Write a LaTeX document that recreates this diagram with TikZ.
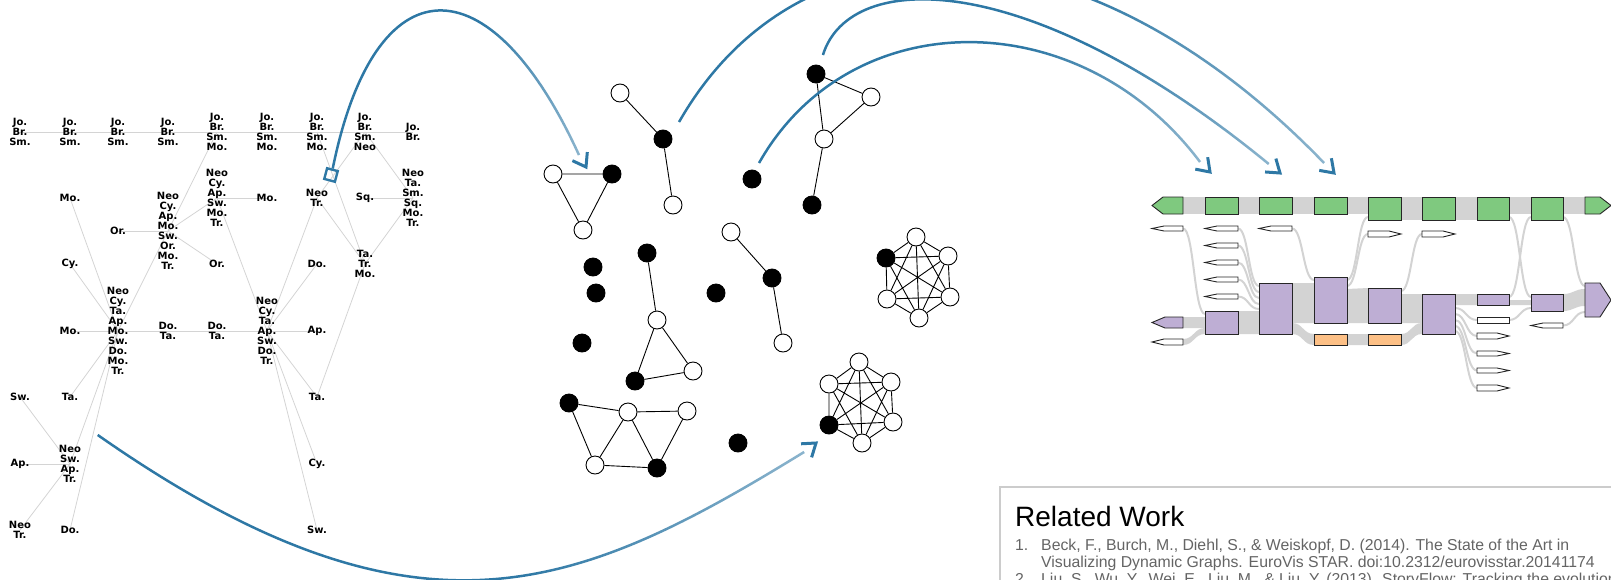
\documentclass[tikz,border=0pt]{standalone}
\usepackage{fontspec}
\setmainfont{Liberation Sans}
\newfontfamily\treefont{DejaVu Sans}
\usetikzlibrary{backgrounds,fadings}

\definecolor{arcblue}{RGB}{46,120,165}
\definecolor{treegray}{RGB}{212,212,212}
\definecolor{flowgray}{RGB}{211,211,211}
\definecolor{slotgreen}{RGB}{127,201,127}
\definecolor{slotpurple}{RGB}{190,174,212}
\definecolor{slotorange}{RGB}{253,192,134}
\definecolor{reftext}{RGB}{100,100,100}
\definecolor{boxgray}{RGB}{204,204,204}

\pgfdeclarehorizontalshading{arcshade}{100bp}{color(0bp)=(pgftransparent!0); color(55bp)=(pgftransparent!0); color(84bp)=(pgftransparent!65); color(100bp)=(pgftransparent!97)}
\pgfdeclarefading{arcfade}{\pgfuseshading{arcshade}}

\tikzset{
  lbl/.style={font=\treefont\bfseries\fontsize{10}{10}\selectfont, align=center, inner sep=0pt},
  tline/.style={draw=treegray, line width=0.8pt},
  gw/.style={circle, draw, line width=0.9pt, fill=white, minimum size=18pt, inner sep=0pt},
  gk/.style={gw, fill=black},
  gedge/.style={line width=0.9pt},
  arcline/.style={draw=arcblue, line width=2.5pt, path fading=arcfade},
  chevron/.style={draw=arcblue, line width=3pt, line join=miter},
  flow/.style={fill=flowgray},
  flowthin/.style={draw=flowgray, line width=2pt},
  slotline/.style={draw=black!85, line width=0.9pt},
  reftxt/.style={font=\fontsize{15.8}{17}\selectfont, text=reftext, inner sep=0pt, anchor=base west}
}

% open chevron at a tip, #2 = direction of travel
\newcommand{\chevron}[2]{\draw[chevron] ([shift={(#2+145:15)}]#1) -- (#1) -- ([shift={(#2+215:15)}]#1);}
% gray flow band between two columns
\newcommand{\flowband}[6]{\fill[flow] (#1,#2) .. controls ({(#1+#4)/2},#2) and ({(#1+#4)/2},#5) .. (#4,#5) -- (#4,#6) .. controls ({(#1+#4)/2},#6) and ({(#1+#4)/2},#3) .. (#1,#3) -- cycle;}
\newcommand{\flowline}[4]{\draw[flowthin] (#1,#2) .. controls ({(#1+#3)/2},#2) and ({(#1+#3)/2},#4) .. (#3,#4);}
% small white markers
\newcommand{\lmark}[4]{\draw[slotline, fill=white] (#2,#3) -- ({#1+12},#3) -- (#1,{(#3+#4)/2}) -- ({#1+12},#4) -- (#2,#4) -- cycle;}
\newcommand{\rmark}[4]{\draw[slotline, fill=white] (#1,#3) -- ({#2-12},#3) -- (#2,{(#3+#4)/2}) -- ({#2-12},#4) -- (#1,#4) -- cycle;}

\begin{document}
\begin{tikzpicture}[x=1pt,y=-1pt]
\useasboundingbox (0,0) rectangle (1611,579);
\clip (0,0) rectangle (1611,579);

% tree of groups, left
\node[lbl] (c0r0) at (20,132) {Jo.\\Br.\\Sm.};
\node[lbl] (c1r0) at (70,132) {Jo.\\Br.\\Sm.};
\node[lbl] (c2r0) at (118,132) {Jo.\\Br.\\Sm.};
\node[lbl] (c3r0) at (168,132) {Jo.\\Br.\\Sm.};
\node[lbl] (c4r0) at (217,132) {Jo.\\Br.\\Sm.\\Mo.};
\node[lbl] (c5r0) at (267,132) {Jo.\\Br.\\Sm.\\Mo.};
\node[lbl] (c6r0) at (317,132) {Jo.\\Br.\\Sm.\\Mo.};
\node[lbl] (c7r0) at (365,132) {Jo.\\Br.\\Sm.\\Neo};
\node[lbl] (c8r0) at (413,132) {Jo.\\Br.};

\node[lbl] (c1r2) at (70,198) {Mo.};
\node[lbl] (c4r2) at (217,198) {Neo\\Cy.\\Ap.\\Sw.\\Mo.\\Tr.};
\node[lbl] (c5r2) at (267,198) {Mo.};
\node[lbl] (c6r2) at (317,198) {Neo\\Tr.};
\node[lbl] (c7r2) at (365,198) {Sq.};
\node[lbl] (c8r2) at (413,198) {Neo\\Ta.\\Sm.\\Sq.\\Mo.\\Tr.};

\node[lbl] (c2r3) at (118,231) {Or.};
\node[lbl] (c3r3) at (168,231) {Neo\\Cy.\\Ap.\\Mo.\\Sw.\\Or.\\Mo.\\Tr.};

\node[lbl] (c1r4) at (70,264) {Cy.};
\node[lbl] (c4r4) at (217,264) {Or.};
\node[lbl] (c6r4) at (317,264) {Do.};
\node[lbl] (c7r4) at (365,264) {Ta.\\Tr.\\Mo.};

\node[lbl] (c1r6) at (70,331) {Mo.};
\node[lbl] (c2r6) at (118,331) {Neo\\Cy.\\Ta.\\Ap.\\Mo.\\Sw.\\Do.\\Mo.\\Tr.};
\node[lbl] (c3r6) at (168,331) {Do.\\Ta.};
\node[lbl] (c4r6) at (217,331) {Do.\\Ta.};
\node[lbl] (c5r6) at (267,331) {Neo\\Cy.\\Ta.\\Ap.\\Sw.\\Do.\\Tr.};
\node[lbl] (c6r6) at (317,331) {Ap.};

\node[lbl] (c0r8) at (20,397) {Sw.};
\node[lbl] (c1r8) at (70,397) {Ta.};
\node[lbl] (c6r8) at (317,397) {Ta.};

\node[lbl] (c0r10) at (20,464) {Ap.};
\node[lbl] (c1r10) at (70,464) {Neo\\Sw.\\Ap.\\Tr.};
\node[lbl] (c6r10) at (317,464) {Cy.};

\node[lbl] (c0r12) at (20,530) {Neo\\Tr.};
\node[lbl] (c1r12) at (70,530) {Do.};
\node[lbl] (c6r12) at (317,530) {Sw.};

\begin{scope}[on background layer]
\draw[tline] (c0r0.center) -- (c8r0.center);
\draw[tline] (c1r2.center) -- (c2r6.center);
\draw[tline] (c1r4.center) -- (c2r6.center);
\draw[tline] (c1r6.center) -- (c6r6.center);
\draw[tline] (c1r8.center) -- (c2r6.center);
\draw[tline] (c2r6.center) -- (c1r10.center);
\draw[tline] (c2r6.center) -- (c1r12.center);
\draw[tline] (c2r6.center) -- (c3r3.center);
\draw[tline] (c2r3.center) -- (c3r3.center);
\draw[tline] (c3r3.center) -- (c4r0.center);
\draw[tline] (c3r3.center) -- (c4r2.center);
\draw[tline] (c3r3.center) -- (c4r4.center);
\draw[tline] (c4r2.center) -- (c5r2.center);
\draw[tline] (c4r2.center) -- (c5r6.center);
\draw[tline] (c5r6.center) -- (c6r2.center);
\draw[tline] (c5r6.center) -- (c6r4.center);
\draw[tline] (c5r6.center) -- (c6r8.center);
\draw[tline] (c5r6.center) -- (c6r10.center);
\draw[tline] (c5r6.center) -- (c6r12.center);
\draw[tline] (c6r0.center) -- (c7r4.center);
\draw[tline] (c6r2.center) -- (c7r0.center);
\draw[tline] (c6r2.center) -- (c7r4.center);
\draw[tline] (c6r8.center) -- (c7r4.center);
\draw[tline] (c7r0.center) -- (c8r2.center);
\draw[tline] (c7r2.center) -- (c8r2.center);
\draw[tline] (c7r4.center) -- (c8r2.center);
\draw[tline] (c0r8.center) -- (c1r10.center);
\draw[tline] (c0r10.center) -- (c1r10.center);
\draw[tline] (c0r12.center) -- (c1r10.center);
\end{scope}

\node[draw=arcblue, line width=2.4pt, minimum size=11pt, inner sep=0pt, rotate=-15] (sq) at (331,175) {};

% graph snapshot, middle
\node[gw] (ga1) at (553,174) {};
\node[gk] (ga2) at (612,174) {};
\node[gw] (ga3) at (583,230) {};
\draw[gedge] (ga1) -- (ga2) -- (ga3) -- (ga1);

\node[gw] (gb1) at (620,93) {};
\node[gk] (gb2) at (663,139) {};
\node[gw] (gb3) at (673,205) {};
\draw[gedge] (gb1) -- (gb2) -- (gb3);

\node[gk] (gc1) at (816,74) {};
\node[gw] (gc2) at (871,97) {};
\node[gw] (gc3) at (824,139) {};
\node[gk] (gc4) at (812,205) {};
\draw[gedge] (gc1) -- (gc2) -- (gc3) -- (gc1) (gc3) -- (gc4);

\node[gk] (gi1) at (752,179) {};
\node[gk] (gi2) at (593,267) {};
\node[gk] (gi3) at (596,293) {};
\node[gk] (gi4) at (716,293) {};
\node[gk] (gi5) at (582,343) {};
\node[gk] (gi6) at (738,443) {};

\node[gk] (gd1) at (647,253) {};
\node[gw] (gd2) at (657,320) {};
\node[gk] (gd3) at (635,381) {};
\node[gw] (gd4) at (693,371) {};
\draw[gedge] (gd1) -- (gd2) -- (gd3) -- (gd4) -- (gd2);

\node[gw] (ge1) at (731,232) {};
\node[gk] (ge2) at (772,278) {};
\node[gw] (ge3) at (783,343) {};
\draw[gedge] (ge1) -- (ge2) -- (ge3);

\node[gk] (gf1) at (886,258) {};
\node[gw] (gf2) at (916,237) {};
\node[gw] (gf3) at (948,256) {};
\node[gw] (gf4) at (950,297) {};
\node[gw] (gf5) at (919,318) {};
\node[gw] (gf6) at (887,299) {};
\draw[gedge] (gf1) -- (gf2) -- (gf3) -- (gf4) -- (gf5) -- (gf6) -- (gf1) -- (gf3) -- (gf5) -- (gf1) -- (gf4)
  (gf2) -- (gf4) -- (gf6) -- (gf2) -- (gf5) (gf3) -- (gf6);

\node[gw] (gg1) at (829,384) {};
\node[gw] (gg2) at (859,362) {};
\node[gw] (gg3) at (891,382) {};
\node[gw] (gg4) at (893,422) {};
\node[gw] (gg5) at (862,443) {};
\node[gk] (gg6) at (829,425) {};
\draw[gedge] (gg1) -- (gg2) -- (gg3) -- (gg4) -- (gg5) -- (gg6) -- (gg1) -- (gg3) -- (gg5) -- (gg1) -- (gg4)
  (gg2) -- (gg4) -- (gg6) -- (gg2) -- (gg5) (gg3) -- (gg6);

\node[gk] (gh1) at (569,403) {};
\node[gw] (gh2) at (628,412) {};
\node[gw] (gh3) at (687,411) {};
\node[gw] (gh4) at (595,465) {};
\node[gk] (gh5) at (657,468) {};
\draw[gedge] (gh1) -- (gh2) -- (gh3) -- (gh5) -- (gh4) -- (gh1) (gh2) -- (gh4) (gh2) -- (gh5);

% storyline, right
\fill[flow] (1183,197) rectangle (1585,214);
\fill[flow] (1401,214) rectangle (1477,220);
\flowband{1183}{317}{328}{1205}{317}{328}
\flowband{1183}{339}{345}{1205}{328}{334}
\flowband{1238}{311}{334}{1259}{311}{334}
\flowband{1292}{283}{323}{1314}{283}{323}
\flowband{1292}{323}{334}{1314}{334}{345}
\flowband{1347}{289}{323}{1368}{288}{323}
\flowband{1347}{334}{345}{1368}{334}{345}
\flowband{1401}{294}{323}{1422}{294}{323}
\flowband{1401}{334}{345}{1422}{323}{334}
\flowband{1455}{294}{305}{1477}{294}{305}
\flowband{1509}{300}{305}{1531}{300}{305}
\flowband{1563}{294}{311}{1585}{289}{306}
\flowline{1183}{228.5}{1205}{314}
\flowline{1238}{228.5}{1259}{286}
\flowline{1238}{245.5}{1259}{292}
\flowline{1238}{262.5}{1259}{298}
\flowline{1238}{279.5}{1259}{304}
\flowline{1238}{296.5}{1259}{309}
\flowline{1292}{228.5}{1314}{280}
\flowline{1347}{280}{1368}{217}
\flowline{1347}{286}{1368}{234}
\flowline{1401}{291}{1422}{234}
\flowline{1455}{308}{1477}{320}
\flowline{1455}{314}{1477}{336}
\flowline{1455}{320}{1477}{353.5}
\flowline{1455}{326}{1477}{370.5}
\flowline{1455}{331}{1477}{388}
\flowline{1509}{217}{1531}{297}
\flowline{1509}{297}{1531}{217}
\flowline{1509}{320}{1531}{308}
\flowline{1563}{217}{1585}{286}
\flowline{1563}{325.5}{1585}{312}

\draw[slotline, fill=slotgreen] (1183,197) -- (1163,197) -- (1152,205.5) -- (1163,214) -- (1183,214) -- cycle;
\draw[slotline, fill=slotgreen] (1205,197) rectangle (1238,214);
\draw[slotline, fill=slotgreen] (1259,197) rectangle (1292,214);
\draw[slotline, fill=slotgreen] (1314,197) rectangle (1347,214);
\draw[slotline, fill=slotgreen] (1368,197) rectangle (1401,220);
\draw[slotline, fill=slotgreen] (1422,197) rectangle (1455,220);
\draw[slotline, fill=slotgreen] (1477,197) rectangle (1509,220);
\draw[slotline, fill=slotgreen] (1531,197) rectangle (1563,220);
\draw[slotline, fill=slotgreen] (1585,197) -- (1600,197) -- (1611,205.5) -- (1600,214) -- (1585,214) -- cycle;

\draw[slotline, fill=slotpurple] (1183,317) -- (1165,317) -- (1152,322.5) -- (1165,328) -- (1183,328) -- cycle;
\draw[slotline, fill=slotpurple] (1205,311) rectangle (1238,334);
\draw[slotline, fill=slotpurple] (1259,283) rectangle (1292,334);
\draw[slotline, fill=slotpurple] (1314,277) rectangle (1347,323);
\draw[slotline, fill=slotpurple] (1368,288) rectangle (1401,323);
\draw[slotline, fill=slotpurple] (1422,294) rectangle (1455,334);
\draw[slotline, fill=slotpurple] (1477,294) rectangle (1509,305);
\draw[slotline, fill=slotpurple] (1531,294) rectangle (1563,311);
\draw[slotline, fill=slotpurple] (1585,283) -- (1600,283) -- (1611,300) -- (1600,317) -- (1585,317) -- cycle;

\draw[slotline, fill=slotorange] (1314,334) rectangle (1347,345);
\draw[slotline, fill=slotorange] (1368,334) rectangle (1401,345);

\lmark{1152}{1183}{226}{231}
\lmark{1152}{1183}{339}{345}
\lmark{1205}{1238}{226}{231}
\lmark{1205}{1238}{243}{248}
\lmark{1205}{1238}{260}{265}
\lmark{1205}{1238}{277}{282}
\lmark{1205}{1238}{294}{299}
\lmark{1259}{1292}{226}{231}
\lmark{1531}{1563}{323}{328}
\rmark{1368}{1401}{231}{237}
\rmark{1422}{1455}{231}{237}
\draw[slotline, fill=white] (1477,317) rectangle (1509,323);
\rmark{1477}{1509}{333}{339}
\rmark{1477}{1509}{351}{356}
\rmark{1477}{1509}{368}{373}
\rmark{1477}{1509}{385}{391}

% related work box
\draw[draw=boxgray, line width=1.4pt] (1000,487) rectangle (1640,620);
\node[anchor=base west, inner sep=0pt, font=\fontsize{28}{30}\selectfont] (rwtitle) at (1015,526) {Related Work};
\node[reftxt] (rw1num) at (1015,550) {1.};
\node[reftxt] (rw1a) at (1041,550) {Beck, F., Burch, M., Diehl, S., \& Weiskopf, D. (2014). The State of the Art in};
\node[reftxt] (rw1b) at (1041,567) {Visualizing Dynamic Graphs. EuroVis STAR. doi:10.2312/eurovisstar.20141174};
\node[reftxt] (rw2num) at (1015,584) {2.};
\node[reftxt] (rw2a) at (1041,584) {Liu, S., Wu, Y., Wei, E., Liu, M., \& Liu, Y. (2013). StoryFlow: Tracking the evolution of stories};

% blue links
\coordinate (a2s) at ([shift={(16,-17)}]gb2.center);
\coordinate (a3s) at ([shift={(7,-19)}]gc1.center);
\coordinate (a4s) at ([shift={(7,-16)}]gi1.center);
\coordinate (a5s) at (98,435);
\coordinate (a1e) at (579,155);
\coordinate (a1t) at (586,167);
\coordinate (a2e) at (1324,163);
\coordinate (a2t) at (1334,173);
\coordinate (a3e) at (1269,164);
\coordinate (a3t) at (1280,173);
\coordinate (a4e) at (1200,162);
\coordinate (a4t) at (1210,172);
\coordinate (a5e) at (805,452);
\coordinate (a5t) at (816,443);

\draw[arcline] (sq.north) .. controls (375,-40) and (490,-40) .. (a1e);
\draw[arcline] (a2s) .. controls (800,-90) and (1080,-90) .. (a2e);
\draw[arcline] (a3s) .. controls (850,-32) and (1030,-32) .. (a3e);
\draw[arcline] (a4s) .. controls (850,2) and (1080,2) .. (a4e);
\draw[arcline] (a5s) .. controls (420,660) and (580,590) .. (a5e);
\chevron{a1t}{60}
\chevron{a2t}{45}
\chevron{a3t}{39}
\chevron{a4t}{46}
\chevron{a5t}{-38}
\end{tikzpicture}
\end{document}
